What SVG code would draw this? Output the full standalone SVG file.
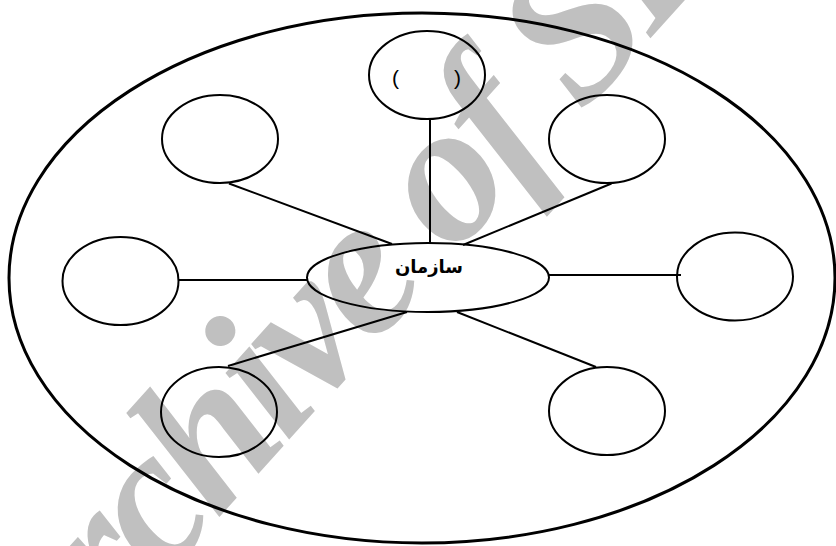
<svg xmlns="http://www.w3.org/2000/svg" width="836" height="546" viewBox="0 0 836 546">
<style>
.n{fill:none;stroke:#000;stroke-width:2}
.c line{stroke:#000;stroke-width:2}
.wm{font-family:"Liberation Serif",serif;font-weight:bold;font-style:italic;font-size:200px;letter-spacing:-8px;fill:#c0c0c0}
.p{font-family:"Liberation Sans",sans-serif;font-size:21px;fill:#000}
.t{font-family:"DejaVu Sans",sans-serif;font-weight:bold;font-size:18px;fill:#000}
</style>
<rect width="836" height="546" fill="#fff"/>
<text class="wm" transform="translate(32,725) rotate(-48)" x="0" y="0">Archive of SID</text>
<g id="outer"><ellipse class="n" style="stroke-width:3" cx="422" cy="278" rx="413" ry="265"/></g>
<g class="c" id="connectors">
<line x1="430" y1="118" x2="430" y2="243"/>
<line x1="229" y1="183.5" x2="392" y2="244"/>
<line x1="611.5" y1="183.5" x2="463" y2="245"/>
<line x1="179" y1="280" x2="308" y2="280"/>
<line x1="548" y1="275" x2="681" y2="275"/>
<line x1="407" y1="312" x2="228" y2="366"/>
<line x1="457" y1="312" x2="596" y2="367"/>
</g>
<g id="center"><ellipse class="n" cx="428" cy="277.5" rx="121" ry="34.5"/><text class="t" x="429" y="273" text-anchor="middle" direction="rtl">سازمان</text></g>
<g id="top"><ellipse class="n" cx="427" cy="75" rx="58" ry="44"/><text class="p" x="392" y="85">(</text><text class="p" x="454" y="85">)</text></g>
<g id="upleft"><ellipse class="n" cx="220" cy="139" rx="58" ry="44"/></g>
<g id="upright"><ellipse class="n" cx="607" cy="139" rx="58" ry="44"/></g>
<g id="left"><ellipse class="n" cx="120.5" cy="281" rx="58" ry="44"/></g>
<g id="right"><ellipse class="n" cx="735" cy="276.5" rx="58" ry="44"/></g>
<g id="downleft"><ellipse class="n" cx="219" cy="412" rx="58" ry="45"/></g>
<g id="downright"><ellipse class="n" cx="607" cy="411" rx="58" ry="44"/></g>
</svg>
